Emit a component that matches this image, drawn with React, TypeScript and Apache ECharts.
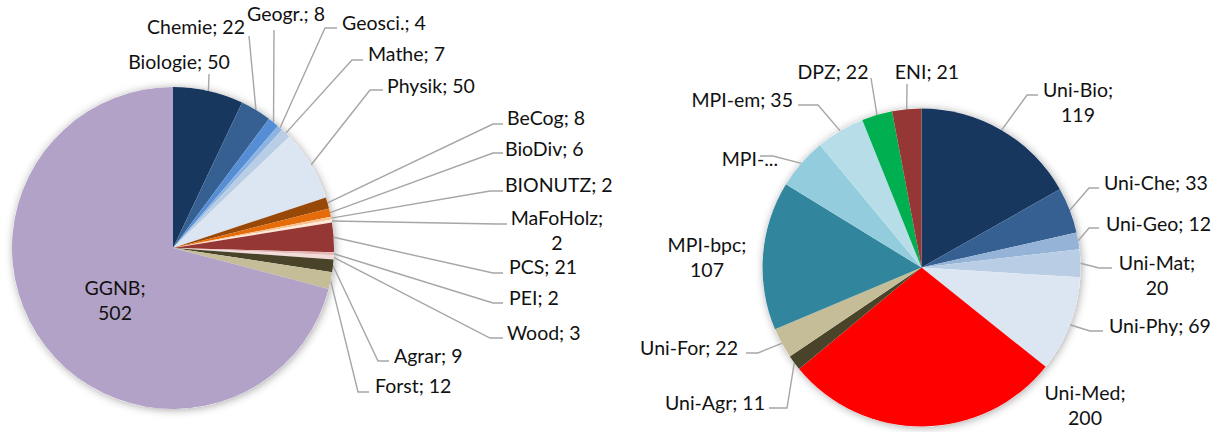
import React, { useEffect, useRef } from "react";
import * as echarts from "echarts";

// ---- Data ----
const leftNames = ["Biologie", "Chemie", "Geogr.", "Geosci.", "Mathe", "Physik", "BeCog", "BioDiv", "BIONUTZ", "MaFoHolz", "PCS", "PEI", "Wood", "Agrar", "Forst", "GGNB"];
const leftValues = [50, 22, 8, 4, 7, 50, 8, 6, 2, 2, 21, 2, 3, 9, 12, 502];
const leftColors = ["#17375E", "#366092", "#558ED5", "#8DB3E2", "#B9CDE5", "#DCE6F2", "#984807", "#E46C0A", "#FAC090", "#FDE9D9", "#953735", "#E6B9B8", "#F2DCDB", "#494429", "#C4BD97", "#B3A2C7"];

const rightNames = ["Uni-Bio", "Uni-Che", "Uni-Geo", "Uni-Mat", "Uni-Phy", "Uni-Med", "Uni-Agr", "Uni-For", "MPI-bpc", "MPI-...", "MPI-em", "DPZ", "ENI"];
const rightValues = [119, 33, 12, 20, 69, 200, 11, 22, 107, 37, 35, 22, 21];
const rightColors = ["#17375E", "#366092", "#95B3D7", "#B9CDE5", "#DCE6F2", "#FF0000", "#494429", "#C4BD97", "#31859C", "#93CDDD", "#B7DEE8", "#00B050", "#953735"];

// labels that wrap onto two lines, and labels that show no value (truncated)
const wrappedLabels = ["GGNB", "MaFoHolz", "Uni-Bio", "Uni-Mat", "Uni-Med", "MPI-bpc"];
const truncatedLabels = ["MPI-..."];
const noLineLabels = ["GGNB", "Uni-Med", "MPI-bpc"];

// ---- Label layout (positions of label texts and leader-line elbows) ----
type LL = { x: number; y: number; align: string; line: number[][] | null };
const leftLabelLayout: LL[] = [
  { x: 179, y: 61, align: "center", line: [[209, 74], [209, 74]] },
  { x: 196, y: 26, align: "center", line: [[249, 36], [249, 36]] },
  { x: 286, y: 13, align: "center", line: [[274, 30], [274, 30]] },
  { x: 342, y: 22, align: "left", line: [[325, 28], [337, 28]] },
  { x: 368, y: 53, align: "left", line: [[352, 60], [363, 60]] },
  { x: 387, y: 85, align: "left", line: [[370, 90], [383, 90]] },
  { x: 507, y: 117, align: "left", line: [[493, 124], [503, 124]] },
  { x: 505, y: 148, align: "left", line: [[493, 153], [503, 153]] },
  { x: 505, y: 184, align: "left", line: [[490, 191], [503, 191]] },
  { x: 557, y: 230, align: "center", line: [[497, 224], [507, 224]] },
  { x: 509, y: 266, align: "left", line: [[493, 273], [503, 273]] },
  { x: 509, y: 297, align: "left", line: [[493, 303], [503, 303]] },
  { x: 507, y: 332, align: "left", line: [[490, 338], [503, 338]] },
  { x: 394, y: 355, align: "left", line: [[378, 361], [389, 361]] },
  { x: 375, y: 385, align: "left", line: [[358, 392], [369, 392]] },
  { x: 115, y: 300, align: "center", line: null },
];
const rightLabelLayout: LL[] = [
  { x: 1078, y: 102, align: "center", line: [[1027, 95], [1038, 95]] },
  { x: 1104, y: 182, align: "left", line: [[1089, 188], [1099, 188]] },
  { x: 1106, y: 223, align: "left", line: [[1089, 228], [1099, 228]] },
  { x: 1157, y: 275, align: "center", line: [[1099, 268], [1112, 268]] },
  { x: 1109, y: 325, align: "left", line: [[1090, 331], [1103, 331]] },
  { x: 1085, y: 405, align: "center", line: null },
  { x: 765, y: 402, align: "right", line: [[787, 408], [769, 408]] },
  { x: 738, y: 347, align: "right", line: [[758, 353], [746, 353]] },
  { x: 707, y: 257, align: "center", line: null },
  { x: 778, y: 158, align: "right", line: [[773, 156], [760, 156]] },
  { x: 793, y: 99, align: "right", line: [[818, 105], [798, 105]] },
  { x: 833, y: 71, align: "center", line: [[871, 78], [871, 78]] },
  { x: 927, y: 71, align: "center", line: [[907, 84], [907, 84]] },
];

const LEFT_CENTER = [173, 248];
const LEFT_R = 161;
const RIGHT_CENTER = [921.5, 267.5];
const RIGHT_R = 159;

function buildData(names: string[], values: number[], colors: string[]) {
  return names.map((n, i) => ({
    name: n,
    value: values[i],
    itemStyle: { color: colors[i] },
    labelLine: { show: !noLineLabels.includes(n) },
  }));
}

function fmt(p: any) {
  if (truncatedLabels.includes(p.name)) return p.name;
  if (wrappedLabels.includes(p.name)) return `${p.name};\n${p.value}`;
  return `${p.name}; ${p.value}`;
}

function shadowSeries(center: number[], r: number) {
  return {
    type: "pie",
    center,
    radius: r,
    silent: true,
    z: 1,
    label: { show: false },
    labelLine: { show: false },
    data: [{ value: 1, itemStyle: { color: "#ffffff", shadowBlur: 9, shadowColor: "rgba(0,0,0,0.35)", shadowOffsetX: 1, shadowOffsetY: 1 } }],
  };
}

function pieSeries(center: number[], r: number, data: any[], layout: LL[]) {
  return {
    type: "pie",
    center,
    radius: r,
    startAngle: 90,
    clockwise: true,
    z: 2,
    avoidLabelOverlap: false,
    itemStyle: { borderWidth: 0 },
    label: {
      show: true,
      position: "outside",
      formatter: fmt,
      color: "#111111",
      fontFamily: "Lato",
      fontSize: 19.5,
      lineHeight: 25,
    },
    labelLine: {
      show: true,
      smooth: false,
      length: 10,
      length2: 10,
      lineStyle: { color: "#A6A6A6", width: 1.4 },
    },
    labelLayout: (params: any) => {
      const l = layout[params.dataIndex];
      if (!l) return {};
      const out: any = { x: l.x, y: l.y, align: l.align, verticalAlign: "middle" };
      if (l.line && params.labelLinePoints && params.labelLinePoints[0]) {
        out.labelLinePoints = [params.labelLinePoints[0], l.line[0], l.line[1]];
      }
      return out;
    },
    data,
  };
}

export default function App() {
  const ref = useRef<HTMLDivElement>(null);
  useEffect(() => {
    document.body.style.margin = "0";
    if (!ref.current) return;
    const chart = echarts.init(ref.current, undefined, { renderer: "svg" });
    chart.setOption({
      animation: false,
      backgroundColor: "#ffffff",
      textStyle: { fontFamily: "Lato" },
      series: [
        shadowSeries(LEFT_CENTER, LEFT_R),
        shadowSeries(RIGHT_CENTER, RIGHT_R),
        pieSeries(LEFT_CENTER, LEFT_R, buildData(leftNames, leftValues, leftColors), leftLabelLayout),
        pieSeries(RIGHT_CENTER, RIGHT_R, buildData(rightNames, rightValues, rightColors), rightLabelLayout),
      ],
    });
    return () => chart.dispose();
  }, []);
  return <div ref={ref} style={{ width: 1215, height: 432 }} />;
}
